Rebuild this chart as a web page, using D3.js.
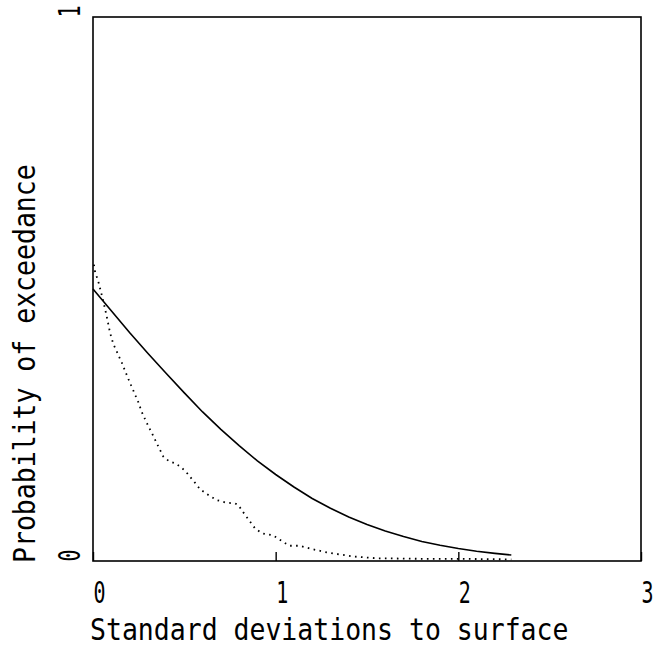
<!DOCTYPE html>
<html>
<head>
<meta charset="utf-8">
<script src="https://cdn.jsdelivr.net/npm/d3@7"></script>
<style>
  html, body { margin: 0; padding: 0; background: #fff; }
  svg { display: block; }
  text { font-family: "DejaVu Sans Mono", "Liberation Mono", monospace; fill: #000; }
</style>
</head>
<body>
<svg id="chart" width="656" height="648"></svg>
<script>
// ---- data ----
const xTickValues = [0, 1, 2, 3];
const yTickValues = [0, 1];
const xTitle = "Standard deviations to surface";
const yTitle = "Probability of exceedance";

// solid curve
const solidX = [0, 0.1, 0.2, 0.3, 0.4, 0.5, 0.6, 0.7, 0.8, 0.9, 1.0, 1.1, 1.2, 1.3, 1.4, 1.5, 1.6, 1.7, 1.8, 1.9, 2.0, 2.1, 2.2, 2.29];
const solidP = [0.50, 0.46, 0.42, 0.382, 0.345, 0.309, 0.274, 0.242, 0.212, 0.184, 0.159, 0.136, 0.115, 0.097, 0.081, 0.067, 0.055, 0.045, 0.036, 0.029, 0.023, 0.018, 0.014, 0.011];

// dotted curve
const dottedX = [0.005, 0.011, 0.029, 0.038, 0.056, 0.075, 0.093, 0.111, 0.129, 0.157, 0.193, 0.221, 0.248, 0.267, 0.294, 0.327, 0.354, 0.385, 0.418, 0.447, 0.480, 0.509, 0.558, 0.586, 0.619, 0.677, 0.732, 0.777, 0.795, 0.832, 0.887, 0.924, 0.987, 1.051, 1.078, 1.133, 1.197, 1.279, 1.352, 1.434, 1.553, 1.8, 2.0, 2.29];
const dottedP = [0.545, 0.532, 0.514, 0.502, 0.478, 0.450, 0.420, 0.399, 0.386, 0.365, 0.335, 0.313, 0.292, 0.274, 0.254, 0.232, 0.213, 0.192, 0.183, 0.180, 0.173, 0.164, 0.144, 0.132, 0.124, 0.112, 0.107, 0.106, 0.103, 0.085, 0.060, 0.051, 0.047, 0.033, 0.028, 0.028, 0.022, 0.016, 0.012, 0.008, 0.005, 0.004, 0.004, 0.003];

// ---- layout ----
const plotLeft = 93, plotRight = 641, plotTop = 17, plotBottom = 561;
const svg = d3.select("#chart");

const x = d3.scaleLinear().domain([0, 3]).range([plotLeft, plotRight]);
const y = d3.scaleLinear().domain([0, 1]).range([plotBottom, plotTop]);

// frame
svg.append("rect")
  .attr("x", plotLeft).attr("y", plotTop)
  .attr("width", plotRight - plotLeft).attr("height", plotBottom - plotTop)
  .attr("fill", "none").attr("stroke", "#000").attr("stroke-width", 1.6);

// tick label style: narrow, tall glyphs (plotter-like)
const tickFont = 20, tickStretch = 1.5;

// x axis
const xAxis = svg.append("g")
  .attr("transform", `translate(0,${plotBottom})`)
  .call(d3.axisBottom(x).tickValues(xTickValues).tickFormat(d3.format("d")).tickSizeInner(-9).tickSizeOuter(0));
xAxis.select(".domain").remove();
xAxis.selectAll(".tick line").attr("stroke", "#000").attr("stroke-width", 1.4);
xAxis.selectAll(".tick text")
  .attr("x", 0).attr("y", 0).attr("dy", 0)
  .attr("transform", `translate(0,42) scale(1,${tickStretch})`)
  .attr("text-anchor", "start")
  .attr("font-family", "DejaVu Sans Mono")
  .attr("font-size", tickFont);

// y axis
const yAxis = svg.append("g")
  .attr("transform", `translate(${plotLeft},0)`)
  .call(d3.axisLeft(y).tickValues(yTickValues).tickFormat(d3.format("d")).tickSize(0));
yAxis.select(".domain").remove();
yAxis.selectAll(".tick text")
  .attr("x", 0).attr("y", 0).attr("dy", 0)
  .attr("transform", `translate(-13,0) rotate(-90) scale(1,${tickStretch})`)
  .attr("text-anchor", "start")
  .attr("font-family", "DejaVu Sans Mono")
  .attr("font-size", tickFont);

// titles
const titleFont = 26.5, titleStretch = 1.17;
svg.append("text")
  .attr("transform", `translate(90,640) scale(1,${titleStretch})`)
  .attr("font-size", titleFont)
  .text(xTitle);

svg.append("text")
  .attr("transform", `translate(35,563) rotate(-90) scale(1,${titleStretch})`)
  .attr("font-size", titleFont)
  .text(yTitle);

// curves
const line = d3.line().x(d => x(d[0])).y(d => y(d[1]));

svg.append("path")
  .datum(solidX.map((v, i) => [v, solidP[i]]))
  .attr("d", line)
  .attr("fill", "none").attr("stroke", "#000").attr("stroke-width", 1.6);

svg.append("path")
  .datum(dottedX.map((v, i) => [v, dottedP[i]]))
  .attr("d", line)
  .attr("fill", "none").attr("stroke", "#000").attr("stroke-width", 1.8)
  .attr("stroke-dasharray", "1.6 4.4");
</script>
</body>
</html>
